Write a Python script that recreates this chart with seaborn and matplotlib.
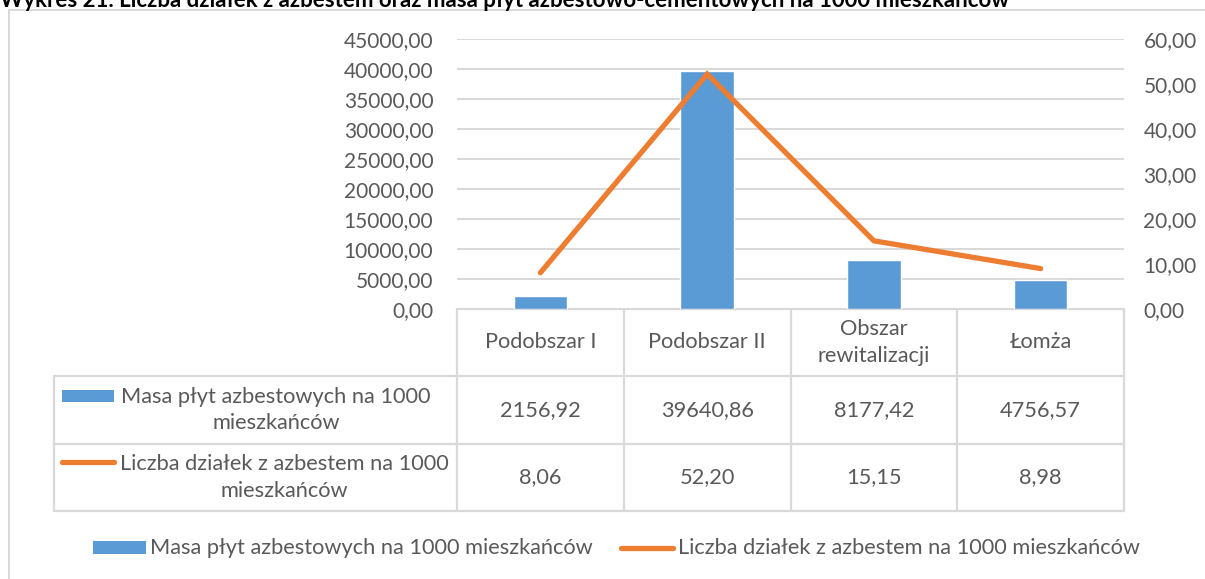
import numpy as np
import matplotlib
matplotlib.use("Agg")
import matplotlib.pyplot as plt
import seaborn as sns
from matplotlib.lines import Line2D
from matplotlib.patches import Rectangle

# --- data -------------------------------------------------------------
categories = ["Podobszar I", "Podobszar II", "Obszar\nrewitalizacji", "Łomża"]
masa = [2156.92, 39640.86, 8177.42, 4756.57]
dzialki = [8.06, 52.20, 15.15, 8.98]
masa_labels = ["2156,92", "39640,86", "8177,42", "4756,57"]
dzialki_labels = ["8,06", "52,20", "15,15", "8,98"]
left_ticks = list(range(0, 45001, 5000))
right_ticks = list(range(0, 61, 10))
series_masa = "Masa płyt azbestowych na 1000 mieszkańców"
series_dzialki = "Liczba działek z azbestem na 1000 mieszkańców"
title = ("Wykres 21. Liczba działek z azbestem oraz masa płyt "
         "azbestowo-cementowych na 1000 mieszkańców")

# --- style ------------------------------------------------------------
sns.set_theme(style="white")
plt.rcParams["font.family"] = ["Lato", "DejaVu Sans"]
BLUE = "#5B9BD5"
ORANGE = "#ED7D31"
TXT = "#595959"
GRID = "#D9D9D9"
FS_TICK = 15
FS = 15.7

W, H = 1205, 579
fig = plt.figure(figsize=(W / 100, H / 100), dpi=100)

# plot area in pixel units
x0, x1 = 457, 1124
y_top, y_bot = 39, 309


def fig_rect(l, t, r, b):
    return [l / W, 1 - b / H, (r - l) / W, (b - t) / H]


ax = fig.add_axes(fig_rect(x0, y_top, x1, y_bot))
pos = np.arange(len(categories))
sns.barplot(x=pos, y=masa, ax=ax, color=BLUE, width=0.32,
            saturation=1, native_scale=True, zorder=3)
ax.set_xlim(-0.5, len(categories) - 0.5)
ax.set_ylim(0, 45000)
ax.set_yticks(left_ticks)
ax.set_yticklabels([f"{v},00" for v in left_ticks], color=TXT, fontsize=FS_TICK)
ax.tick_params(axis="y", length=0, pad=17)
ax.set_xticks([])
ax.yaxis.grid(True, color=GRID, linewidth=1.5)
ax.set_axisbelow(True)
for s in ax.spines.values():
    s.set_visible(False)
ax.set_xlabel("")
ax.set_ylabel("")

ax2 = ax.twinx()
sns.lineplot(x=pos, y=dzialki, ax=ax2, color=ORANGE, linewidth=3.8,
             solid_capstyle="round", solid_joinstyle="miter", zorder=4)
ax2.set_ylim(0, 60)
ax2.set_yticks(right_ticks)
ax2.set_yticklabels([f"{v},00" for v in right_ticks], color=TXT, fontsize=FS_TICK)
ax2.tick_params(axis="y", length=0, pad=14)
ax2.grid(False)
for s in ax2.spines.values():
    s.set_visible(False)
ax2.set_xlabel("")
ax2.set_ylabel("")

# --- overlay in pixel coordinates for the data table, legend, frame ---
ov = fig.add_axes([0, 0, 1, 1], zorder=-1)
ov.set_xlim(0, W)
ov.set_ylim(H, 0)
ov.axis("off")


def hline(y, xa, xb):
    ov.add_line(Line2D([xa, xb], [y, y], color=GRID, linewidth=1.6))


def vline(x, ya, yb):
    ov.add_line(Line2D([x, x], [ya, yb], color=GRID, linewidth=1.6))


# chart frame
ov.add_line(Line2D([9, 9, W + 5], [H + 5, 10, 10], color=GRID, linewidth=1.4))

# table grid
tab_left = 54
r0, r1, r2, r3 = 309, 376, 444, 511
col_edges = np.linspace(x0, x1, len(categories) + 1)
hline(r0, x0, x1)
for r in (r1, r2, r3):
    hline(r, tab_left, x1)
for cx in col_edges:
    vline(cx, r0, r3)
vline(tab_left, r1, r3)

centers = (col_edges[:-1] + col_edges[1:]) / 2
for cx, name, m, d in zip(centers, categories, masa_labels, dzialki_labels):
    ov.text(cx, (r0 + r1) / 2, name, ha="center", va="center",
            color=TXT, fontsize=FS, linespacing=1.4)
    ov.text(cx, (r1 + r2) / 2, m, ha="center", va="center",
            color=TXT, fontsize=FS)
    ov.text(cx, (r2 + r3) / 2, d, ha="center", va="center",
            color=TXT, fontsize=FS)

# row headers with series keys
ov.add_patch(Rectangle((62, 390), 52, 12, color=BLUE, linewidth=0))
ov.text(276, (r1 + r2) / 2, "Masa płyt azbestowych na 1000\nmieszkańców",
        ha="center", va="center", color=TXT, fontsize=FS, linespacing=1.4)
ov.add_line(Line2D([62, 114], [462, 462], color=ORANGE, linewidth=3.8,
                   solid_capstyle="round"))
ov.text(284, (r2 + r3) / 2, "Liczba działek z azbestem na 1000\nmieszkańców",
        ha="center", va="center", color=TXT, fontsize=FS, linespacing=1.4)

# bottom legend
ov.add_patch(Rectangle((93, 541), 53, 13, color=BLUE, linewidth=0))
ov.text(150, 548, series_masa, ha="left", va="center", color=TXT, fontsize=FS)
ov.add_line(Line2D([621, 673], [548, 548], color=ORANGE, linewidth=3.8,
                   solid_capstyle="round"))
ov.text(678, 548, series_dzialki, ha="left", va="center", color=TXT,
        fontsize=FS)

# title, running off the top edge of the chart image
fig.text(0.0, 1 - 7 / H, title, ha="left", va="baseline", color="black",
         fontsize=16, fontweight="bold")

fig.savefig("out.png", dpi=100, facecolor="white")
